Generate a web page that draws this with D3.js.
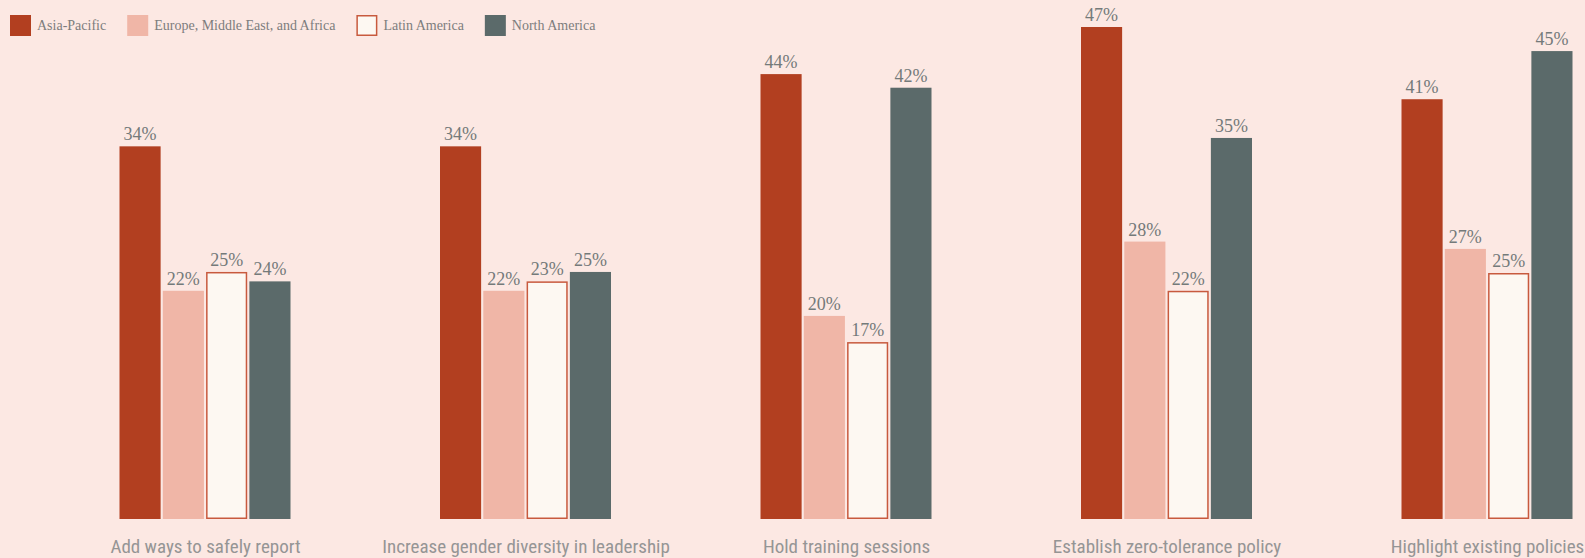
<!DOCTYPE html>
<html>
<head>
<meta charset="utf-8">
<script src="https://cdn.jsdelivr.net/npm/d3@7/dist/d3.min.js"></script>
<style>
  html, body { margin: 0; padding: 0; background: #fce8e3; }
  svg { display: block; }
</style>
</head>
<body>
<svg id="chart" width="1585" height="558"></svg>
<script>
// ---- data ----
const categories = [
  "Add ways to safely report",
  "Increase gender diversity in leadership",
  "Hold training sessions",
  "Establish zero-tolerance policy",
  "Highlight existing policies"
];
const seriesNames = ["Asia-Pacific", "Europe, Middle East, and Africa", "Latin America", "North America"];

// bar lengths as drawn in the picture (percent)
const asiaPacific   = [35.6, 35.6, 42.5, 47.0, 40.1];
const emea          = [21.8, 21.8, 19.4, 26.5, 25.8];
const latinAmerica  = [23.6, 22.7, 16.9, 21.8, 23.5];
const northAmerica  = [22.7, 23.6, 41.2, 36.4, 44.7];

// printed labels
const asiaPacificLabels  = ["34%", "34%", "44%", "47%", "41%"];
const emeaLabels         = ["22%", "22%", "20%", "28%", "27%"];
const latinAmericaLabels = ["25%", "23%", "17%", "22%", "25%"];
const northAmericaLabels = ["24%", "25%", "42%", "35%", "45%"];

const seriesValues = [asiaPacific, emea, latinAmerica, northAmerica];
const seriesLabels = [asiaPacificLabels, emeaLabels, latinAmericaLabels, northAmericaLabels];

// ---- styles ----
const fills   = ["#b23f20", "#f0b6a7", "#fdf8f2", "#5b6a6a"];
const strokes = [null, null, "#c85a3e", null];

const svg = d3.select("#chart");
const W = 1585, H = 558;
svg.append("rect").attr("width", W).attr("height", H).attr("fill", "#fce8e3");

const x0 = d3.scalePoint().domain(categories).range([205, 1487]);
const groupW = 171;
const x1 = d3.scaleBand().domain(seriesNames).range([-groupW / 2, groupW / 2]).paddingInner(0.05);
const y = d3.scaleLinear().domain([0, 47]).range([519, 27]);

const rows = [];
categories.forEach((c, i) => {
  seriesNames.forEach((s, j) => {
    rows.push({ cat: c, ser: s, j, v: seriesValues[j][i], label: seriesLabels[j][i] });
  });
});

const g = svg.append("g");
g.selectAll("rect.bar").data(rows).enter().append("rect")
  .attr("class", "bar")
  .attr("x", d => x0(d.cat) + x1(d.ser) + (strokes[d.j] ? 0.75 : 0))
  .attr("y", d => y(d.v) + (strokes[d.j] ? 0.75 : 0))
  .attr("width", d => x1.bandwidth() - (strokes[d.j] ? 1.5 : 0))
  .attr("height", d => y(0) - y(d.v) - (strokes[d.j] ? 1.5 : 0))
  .attr("fill", d => fills[d.j])
  .attr("stroke", d => strokes[d.j] || "none")
  .attr("stroke-width", 1.5);

g.selectAll("text.val").data(rows).enter().append("text")
  .attr("class", "val")
  .attr("x", d => x0(d.cat) + x1(d.ser) + x1.bandwidth() / 2)
  .attr("y", d => y(d.v) - 6)
  .attr("text-anchor", "middle")
  .attr("font-family", "'Liberation Serif', 'DejaVu Serif', serif")
  .attr("font-size", 18)
  .attr("fill", "#747a7a")
  .text(d => d.label);

// category labels (x axis without line/ticks)
const xAxis = d3.axisBottom(x0).tickSize(0).tickPadding(0);
const ax = svg.append("g").attr("transform", "translate(0,539)").call(xAxis);
ax.select(".domain").remove();
ax.selectAll("text")
  .attr("font-family", "'Liberation Sans Narrow', 'Roboto Condensed', 'Liberation Sans', sans-serif")
  .attr("font-size", 19)
  .attr("fill", "#959595")
  .attr("dy", "0.71em")
  .attr("y", 0);

// legend
const legend = svg.append("g").attr("transform", "translate(10,15)");
let lx = 0;
seriesNames.forEach((s, j) => {
  const item = legend.append("g").attr("transform", `translate(${lx},0)`);
  item.append("rect")
    .attr("x", strokes[j] ? 0.75 : 0).attr("y", strokes[j] ? 0.75 : 0)
    .attr("width", strokes[j] ? 19.5 : 21).attr("height", strokes[j] ? 19.5 : 21)
    .attr("fill", fills[j])
    .attr("stroke", strokes[j] || "none").attr("stroke-width", 1.5);
  const t = item.append("text")
    .attr("x", 27).attr("y", 15)
    .attr("font-family", "'Liberation Serif', 'DejaVu Serif', serif")
    .attr("font-size", 14)
    .attr("fill", "#7d7d7d")
    .text(s);
  lx += 27 + t.node().getComputedTextLength() + 21;
});
</script>
</body>
</html>
